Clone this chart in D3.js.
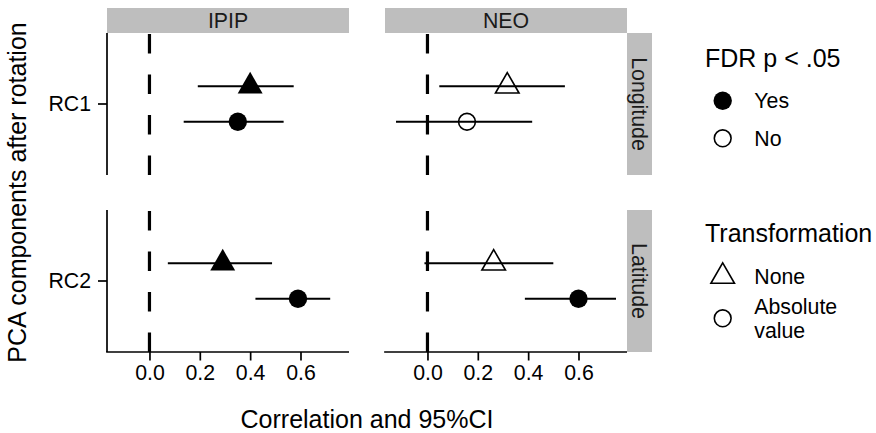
<!DOCTYPE html>
<html>
<head>
<meta charset="utf-8">
<script src="https://cdn.jsdelivr.net/npm/d3@7"></script>
<style>
  html, body { margin: 0; padding: 0; background: #fff; }
  svg { display: block; font-family: "Liberation Sans", Arial, sans-serif; }
</style>
</head>
<body>
<svg id="chart" width="876" height="433"></svg>
<script>
// ---- data ----
const inventories = ["IPIP", "NEO"];
const components = ["RC1", "RC2"];
const rowStrips = ["Longitude", "Latitude"];
const transformations = ["None", "Absolute value"];
const xTicks = [0.0, 0.2, 0.4, 0.6];

// order: IPIP-RC1-None, IPIP-RC1-Abs, IPIP-RC2-None, IPIP-RC2-Abs, NEO-RC1-None, NEO-RC1-Abs, NEO-RC2-None, NEO-RC2-Abs
const rowInventory = ["IPIP","IPIP","IPIP","IPIP","NEO","NEO","NEO","NEO"];
const rowComponent = ["RC1","RC1","RC2","RC2","RC1","RC1","RC2","RC2"];
const rowTransform = ["None","Absolute value","None","Absolute value","None","Absolute value","None","Absolute value"];
const estimate = [0.400, 0.351, 0.291, 0.590, 0.317, 0.157, 0.263, 0.600];
const ciLower  = [0.192, 0.136, 0.073, 0.421, 0.047, -0.125, -0.012, 0.387];
const ciUpper  = [0.573, 0.533, 0.487, 0.718, 0.546, 0.416, 0.500, 0.749];
const fdrSig   = ["Yes","Yes","Yes","Yes","No","No","No","Yes"];

const data = estimate.map((e, i) => ({
  inv: rowInventory[i], comp: rowComponent[i], trans: rowTransform[i],
  est: e, lo: ciLower[i], hi: ciUpper[i], sig: fdrSig[i]
}));

// ---- layout ----
const svg = d3.select("#chart");
const colX = { IPIP: [107, 349], NEO: [385, 627] };
const rowY = { RC1: [33, 175], RC2: [210, 352] };
const stripTop = 8, stripH = 25, stripRightW = 25;
const stripFill = "#bebebe";
const smallFont = 21.3, bigFont = 25;
const FF = "Liberation Sans, Arial, sans-serif";

// x scale with ggplot-like 5% expansion
const dmin = d3.min(ciLower), dmax = d3.max(ciUpper);
const pad = (dmax - dmin) * 0.05;
const xScales = {};
inventories.forEach(inv => {
  xScales[inv] = d3.scaleLinear().domain([dmin - pad, dmax + pad]).range(colX[inv]);
});
// y: discrete category with dodge
const yScales = {};
components.forEach(c => {
  const [t, b] = rowY[c];
  const unit = (b - t) / 1.2;
  const center = (t + b) / 2;
  yScales[c] = d3.scalePoint().domain(transformations)
    .range([center - 0.15 * unit, center + 0.15 * unit]);
});

// triangle path (R pch 2/17 geometry)
function triPath(r) {
  const xc = r * Math.sqrt(3) / 2;
  return `M0,${-r}L${xc},${r / 2}L${-xc},${r / 2}Z`;
}
const circR = 9.2, triR = 14.4;
function drawShape(g, trans, sig, x, y) {
  const filled = sig === "Yes";
  if (trans === "None") {
    g.append("path").attr("d", triPath(filled ? triR : triR - 0.8))
      .attr("transform", `translate(${x},${y})`)
      .attr("fill", filled ? "#000" : "none")
      .attr("stroke", "#000").attr("stroke-width", filled ? 0 : 1.6)
      .attr("stroke-linejoin", "miter");
  } else {
    g.append("circle").attr("cx", x).attr("cy", y)
      .attr("r", filled ? circR : circR - 0.8)
      .attr("fill", filled ? "#000" : "none")
      .attr("stroke", "#000").attr("stroke-width", filled ? 0 : 1.6);
  }
}

// ---- strips ----
inventories.forEach(inv => {
  const [x0, x1] = colX[inv];
  svg.append("rect").attr("x", x0).attr("y", stripTop).attr("width", x1 - x0).attr("height", stripH)
    .attr("fill", stripFill);
  svg.append("text").attr("x", (x0 + x1) / 2).attr("y", stripTop + stripH / 2 + 7.5)
    .attr("text-anchor", "middle").attr("font-size", smallFont).attr("fill", "#1a1a1a").text(inv);
});
components.forEach((c, i) => {
  const [t, b] = rowY[c];
  const x0 = colX.NEO[1];
  svg.append("rect").attr("x", x0).attr("y", t).attr("width", stripRightW).attr("height", b - t)
    .attr("fill", stripFill);
  svg.append("text").attr("transform", `translate(${x0 + stripRightW / 2 - 7.5},${(t + b) / 2}) rotate(90)`)
    .attr("text-anchor", "middle").attr("font-size", smallFont).attr("fill", "#1a1a1a").text(rowStrips[i]);
});

// ---- panels ----
inventories.forEach(inv => {
  components.forEach(comp => {
    const g = svg.append("g");
    const xs = xScales[inv], ys = yScales[comp];
    const [t, b] = rowY[comp];
    // dashed zero line (drawn from bottom)
    g.append("line").attr("x1", xs(0)).attr("x2", xs(0)).attr("y1", b).attr("y2", t)
      .attr("stroke", "#000").attr("stroke-width", 3.2).attr("stroke-dasharray", "19.5,21");
    const sub = data.filter(d => d.inv === inv && d.comp === comp);
    sub.forEach(d => {
      g.append("line").attr("x1", xs(d.lo)).attr("x2", xs(d.hi))
        .attr("y1", ys(d.trans)).attr("y2", ys(d.trans))
        .attr("stroke", "#000").attr("stroke-width", 1.8);
    });
    sub.forEach(d => drawShape(g, d.trans, d.sig, xs(d.est), ys(d.trans)));
  });
});

// ---- axes ----
components.forEach(comp => {
  const [t, b] = rowY[comp];
  const x0 = colX.IPIP[0];
  const yc = d3.scaleBand().domain([comp]).range([t, b]);
  const ax = svg.append("g").attr("transform", `translate(${x0},0)`)
    .call(d3.axisLeft(yc).tickSize(9).tickPadding(7));
  ax.select(".domain").remove();
  ax.append("line").attr("x1", 0).attr("x2", 0).attr("y1", t).attr("y2", b)
    .attr("stroke", "#000").attr("stroke-width", 1.7);
  ax.selectAll(".tick line").attr("stroke", "#000").attr("stroke-width", 1.7);
  ax.selectAll(".tick text").attr("font-size", smallFont).attr("fill", "#000").attr("font-family", FF);
});
inventories.forEach(inv => {
  const b = rowY.RC2[1];
  const ax = svg.append("g").attr("transform", `translate(0,${b})`)
    .call(d3.axisBottom(xScales[inv]).tickValues(xTicks).tickFormat(d3.format(".1f"))
      .tickSize(8.5).tickPadding(4));
  ax.select(".domain").remove();
  ax.append("line").attr("x1", colX[inv][0] - 0.85).attr("x2", colX[inv][1]).attr("y1", 0).attr("y2", 0)
    .attr("stroke", "#000").attr("stroke-width", 1.7);
  ax.selectAll(".tick line").attr("stroke", "#000").attr("stroke-width", 1.7);
  ax.selectAll(".tick text").attr("font-size", smallFont).attr("fill", "#000").attr("font-family", FF);
});

// axis titles
svg.append("text").attr("x", (colX.IPIP[0] + colX.NEO[1]) / 2).attr("y", 428)
  .attr("text-anchor", "middle").attr("font-size", bigFont).attr("fill", "#000")
  .text("Correlation and 95%CI");
svg.append("text").attr("transform", `translate(26,${(rowY.RC1[0] + rowY.RC2[1]) / 2}) rotate(-90)`)
  .attr("text-anchor", "middle").attr("font-size", bigFont).attr("fill", "#000")
  .text("PCA components after rotation");

// ---- legends ----
const legX = 705, keyX = 722.7, labX = 754.3;
const fdrLevels = ["Yes", "No"];
const fdrKeyY = [100.7, 138.3];
svg.append("text").attr("x", legX).attr("y", 67).attr("font-size", bigFont).attr("fill", "#000").text("FDR p < .05");
fdrLevels.forEach((lv, i) => {
  const g = svg.append("g");
  drawShape(g, "Absolute value", lv, keyX, fdrKeyY[i]);
  svg.append("text").attr("x", labX).attr("y", fdrKeyY[i] + 7.5).attr("font-size", smallFont).attr("fill", "#000").text(lv);
});

const transKeyY = [276.5, 318.3];
const transLabels = [["None"], ["Absolute", "value"]];
svg.append("text").attr("x", legX).attr("y", 242).attr("font-size", bigFont).attr("fill", "#000").text("Transformation");
transformations.forEach((tr, i) => {
  const g = svg.append("g");
  drawShape(g, tr, "No", keyX, transKeyY[i]);
  const lines = transLabels[i];
  const lh = 24;
  const firstBase = transKeyY[i] + 7.5 - (lines.length - 1) * lh / 2;
  const t = svg.append("text").attr("font-size", smallFont).attr("fill", "#000");
  lines.forEach((ln, j) => {
    t.append("tspan").attr("x", labX).attr("y", firstBase + j * lh).text(ln);
  });
});
</script>
</body>
</html>
